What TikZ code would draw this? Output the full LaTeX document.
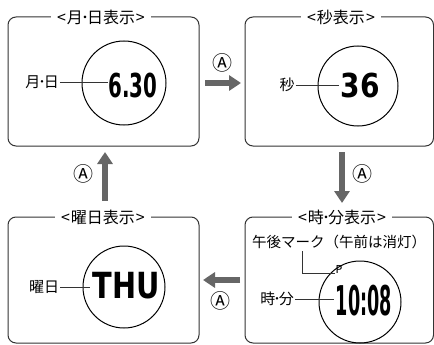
\documentclass[tikz,border=0pt]{standalone}
\usepackage{fontspec}
\setmainfont{Noto Sans CJK JP}
\newfontfamily\digitfont{DejaVu Sans}
\newfontfamily\latinsans{DejaVu Sans}
\usetikzlibrary{arrows.meta}
\definecolor{boxline}{HTML}{333333}
\definecolor{arrowgray}{HTML}{666666}
\newcommand{\mdot}{\kern-2pt･\kern-2pt}
\newcommand{\lbr}{<\kern1pt}
\newcommand{\rbr}{\kern1pt>}
\tikzset{
  panel/.style={draw=boxline, line width=1pt, rounded corners=8pt},
  paneltitle/.style={fill=white, inner xsep=6pt, inner ysep=3pt, font=\fontsize{16}{18}\selectfont},
  dial/.style={draw=black, line width=1pt},
  lbl/.style={inner sep=1pt, font=\fontsize{15}{17}\selectfont},
  lcd/.style={inner sep=0pt, font=\digitfont\bfseries\fontsize{33}{33}\selectfont},
  leader/.style={draw=black!80, line width=0.8pt},
  modearrow/.style={draw=arrowgray, line width=6.5pt, -{Triangle[width=15pt,length=12pt]}},
  btn/.style={inner sep=0pt, font=\fontsize{20}{20}\selectfont}
}
\begin{document}
\begin{tikzpicture}[x=1pt, y=-1pt]
\useasboundingbox (0,0) rectangle (434,345);
% panels
\draw[panel] (8,17) rectangle (199,146);
\draw[panel] (245,17) rectangle (433.5,146);
\draw[panel] (8,217) rectangle (199,343);
\draw[panel] (245,217) rectangle (433.5,343);
\node[paneltitle] (t1) at (101,17) {\lbr 月\mdot 日表示\rbr};
\node[paneltitle] (t2) at (341,17) {\lbr 秒表示\rbr};
\node[paneltitle] (t3) at (103,217) {\lbr 曜日表示\rbr};
\node[paneltitle] (t4) at (342,217) {\lbr 時\mdot 分表示\rbr};
% dials
\draw[dial] (124,83) circle (42);
\draw[dial] (358,86) circle (40);
\draw[dial] (124,287) circle (41);
\draw[dial] (360,302) circle (41);
% month/day
\node[lbl] (l1) at (42,82) {月\mdot 日};
\node[lcd, xscale=0.6] (d1) at (133,85) {6.30};
\draw[leader] (l1.east) -- (108,82);
% seconds
\node[lbl] (l2) at (287,85) {秒};
\node[lcd, xscale=0.85] (d2) at (360,85) {36};
\draw[leader] (l2.east) -- (339,85);
% weekday
\node[lbl] (l3) at (44,287) {曜日};
\node[lcd, font=\digitfont\bfseries\fontsize{36}{36}\selectfont, xscale=0.8] (d3) at (126,286) {THU};
\draw[leader] (l3.east) -- (90,287);
% hour/min
\node[lbl] (l4) at (277,299) {時\mdot 分};
\node[lcd, font=\digitfont\bfseries\fontsize{41}{41}\selectfont, xscale=0.43] (d4) at (364,301) {10:08};
\draw[leader] (l4.east) -- (334,299);
\node[lbl, font=\fontsize{14.5}{17}\selectfont] (pm) at (339,242) {午後マーク（午前は消灯）};
\node[inner sep=0pt, font=\latinsans\fontsize{11}{11}\selectfont] (p) at (339,269) {P};
\draw[leader] (302,251) |- (p.south west);
% arrows
\coordinate (a1s) at (205,83); \coordinate (a1e) at (241,83);
\coordinate (a2s) at (342,152); \coordinate (a2e) at (342,203);
\coordinate (a3s) at (240,280); \coordinate (a3e) at (203,280);
\coordinate (a4s) at (105,201); \coordinate (a4e) at (105,152);
\draw[modearrow] (a1s) -- (a1e);
\draw[modearrow] (a2s) -- (a2e);
\draw[modearrow] (a3s) -- (a3e);
\draw[modearrow] (a4s) -- (a4e);
\node[btn] (b1) at (222,63) {Ⓐ};
\node[btn] (b2) at (362,174) {Ⓐ};
\node[btn] (b3) at (220,301) {Ⓐ};
\node[btn] (b4) at (83,174) {Ⓐ};
\end{tikzpicture}
\end{document}
